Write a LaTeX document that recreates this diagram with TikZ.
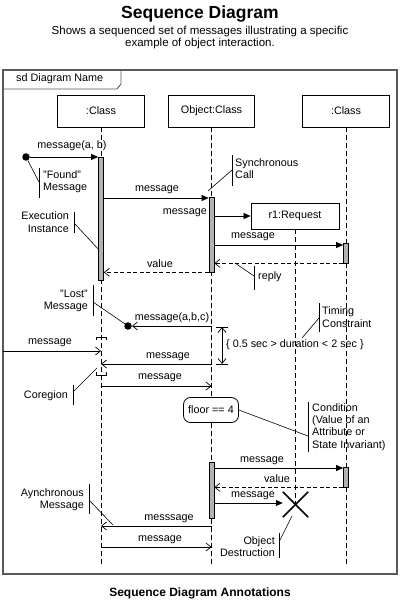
\documentclass[tikz,border=0pt]{standalone}
\usepackage{fontspec}
\setmainfont{Liberation Sans}
\usetikzlibrary{arrows.meta}
\begin{document}
\begin{tikzpicture}[x=1pt,y=-1pt,
  every node/.style={font=\fontsize{10.8}{12.3}\selectfont, inner sep=0pt},
  head/.style={draw, line width=0.8pt, minimum width=87pt, minimum height=32pt, fill=white},
  life/.style={line width=0.8pt, dash pattern=on 5pt off 3pt},
  bar/.style={draw, fill=gray!60, line width=0.7pt, minimum width=5pt, inner sep=0pt},
  sync/.style={line width=0.7pt, -{Triangle[length=7pt,width=6pt]}},
  async/.style={line width=0.7pt, -{Straight Barb[length=5pt,width=8pt]}},
  replyline/.style={async, dash pattern=on 4pt off 2.5pt},
  frameline/.style={draw=black!65, line width=1.3pt},
  notebar/.style={line width=0.9pt},
  noteline/.style={line width=0.6pt},
  dotnode/.style={circle, fill=black, minimum size=7.5pt},
]
\useasboundingbox (0,0) rectangle (400,601);

% titles
\node[font=\bfseries\fontsize{17.5}{20}\selectfont] (title) at (200,14) {Sequence Diagram};
\node[font=\fontsize{11.5}{12.5}\selectfont, align=center] (subtitle) at (200,37.5)
  {Shows a sequenced set of messages illustrating a specific\\example of object interaction.};
\node[font=\bfseries\fontsize{12}{14}\selectfont] (caption) at (200,593) {Sequence Diagram Annotations};

% frame
\draw[frameline] (3,70) rectangle (397,574);
\draw[frameline, line width=0.9pt] (3,89) -- (117,89) -- (121,84) -- (121,70);
\node[anchor=west] (sdname) at (16,79) {sd Diagram Name};

% heads
\node[head] (h1) at (101,111) {:Class};
\node[head, minimum width=86pt] (h2) at (211.5,111) {Object:Class};
\node[head] (h3) at (346,111) {:Class};

% lifelines
\draw[life] (h1.south) -- (h1.south |- 0,567);
\draw[life] (h2.south) -- (h2.south |- 0,567);
\draw[life] (h3.south) -- (h3.south |- 0,567);

% r1 request and destruction
\node[head, minimum width=88pt, minimum height=26pt] (r1) at (295,216) {r1:Request};
\node[minimum size=25pt] (xd) at (295.5,504.5) {};
\draw[life] (r1.south) -- (r1.south |- xd.center);
\draw[line width=1.5pt] (xd.north west) -- (xd.south east) (xd.north east) -- (xd.south west);

% execution bars
\node[bar, minimum height=123pt] (b1) at (101,218.5) {};
\node[bar, minimum height=75pt] (b2) at (211.5,234.5) {};
\node[bar, minimum height=20pt] (b3) at (346,253) {};
\node[bar, minimum height=56pt] (b4) at (211.5,490) {};
\node[bar, minimum height=20pt] (b5) at (346,477) {};

% found message
\node[dotnode] (found) at (26,157) {};
\draw[sync] (found) -- (b1.west |- found);
\node (lfound) at (72,146) {message(a, b)};

% b1 -> b2
\draw[sync] (b1.east |- 0,198) -- (b2.west |- 0,198);
\node (l2) at (157,190) {message};

% b2 -> r1
\draw[sync] (b2.east |- r1.west) -- (r1.west);
\node[anchor=east] (l3) at (207,213) {message};

% b2 -> b3
\draw[sync] (b2.east |- 0,245) -- (b3.west |- 0,245);
\node (l4) at (253,237) {message};

% reply b3 -> b2
\draw[replyline] (b3.south west) -- (b2.east |- b3.south west);

% value b2 -> b1
\draw[replyline] (b2.south west) -- (b1.east |- b2.south west);
\node (l5) at (160,264) {value};

% lost message
\node[dotnode] (lost) at (128,326) {};
\draw[async] (h2.south |- lost) -- (lost.east);
\node (l6) at (172,318) {message(a,b,c)};

% timing constraint
\draw[line width=0.7pt, {Straight Barb[length=5pt,width=8pt]}-{Straight Barb[length=5pt,width=8pt]}] (222,327) -- (222,364);
\draw[line width=0.7pt] (216,327) -- (228,327) (216,364) -- (228,364);
\node[anchor=west] (ltime) at (226,345) {\{ 0.5 sec > duration < 2 sec \}};

% found from left
\coordinate (leftin) at (3,351);
\draw[async] (leftin) -- (h1.south |- leftin);
\node (l7) at (50,343) {message};

% coregion brackets
\draw[line width=0.7pt] (96,340) -- (96,337) -- (106,337) -- (106,340);
\draw[line width=0.7pt] (96,372) -- (96,375) -- (106,375) -- (106,372);

% lifeline2 -> lifeline1
\draw[async] (h2.south |- 0,364) -- (h1.south |- 0,364);
\node (l8) at (168,357) {message};
% lifeline1 -> lifeline2
\draw[async] (h1.south |- 0,386) -- (h2.south |- 0,386);
\node (l9) at (160,378) {message};

% state invariant
\node[draw, rounded corners=7pt, minimum width=55pt, minimum height=25pt, fill=white, line width=0.8pt] (cond) at (211,410) {floor == 4};

% b4 -> b5
\draw[sync] (b4.east |- 0,468) -- (b5.west |- 0,468);
\node (l10) at (262,461) {message};
\draw[replyline] (b5.south west) -- (b4.east |- b5.south west);
\node (l11) at (277,479) {value};
\draw[sync] (b4.east |- 0,503) -- (xd.west |- 0,503);
\node (l12) at (253,496) {message};

% async message
\draw[async] (h2.south |- 0,526) -- (h1.south |- 0,526);
\node (l13) at (169,519) {messsage};
\draw[async] (h1.south |- 0,547) -- (h2.south |- 0,547);
\node (l14) at (160,540) {message};

% annotations
\node[anchor=west, align=left] (nfound) at (43,181.5) {"Found"\\Message};
\draw[notebar] (39,168) -- (39,198);
\draw[noteline] (found) -- (39,182);

\node[anchor=east, align=right] (nexec) at (69,222) {Execution\\Instance};
\draw[notebar] (74,212) -- (74,233);
\draw[noteline] (74,223) -- (b1.west |- 0,249);

\node[anchor=west, align=left] (nsync) at (235,168.5) {Synchronous\\Call};
\draw[notebar] (232,155) -- (232,186);
\draw[noteline] (232,170) -- (208,191);

\node[anchor=west] (nreply) at (258,277) {reply};
\draw[notebar] (254,266) -- (254,290);
\draw[noteline] (235,263) -- (254,276);

\node[anchor=east, align=right] (nlost) at (88,301) {"Lost"\\Message};
\draw[notebar] (93,285) -- (93,316);
\draw[noteline] (93,302) -- (lost);

\node[anchor=west, align=left] (ntime) at (322,317) {Timing\\Constraint};
\draw[notebar] (319,303) -- (319,332);
\draw[noteline] (319,318) -- (302,338);

\node[anchor=east] (ncore) at (68,396) {Coregion};
\draw[notebar] (73,385) -- (73,405);
\draw[noteline] (73,392) -- (97,368);

\node[anchor=west, align=left] (ncond) at (312,427) {Condition\\(Value of an\\Attribute or\\State Invariant)};
\draw[notebar] (308,402) -- (308,452);
\draw[noteline] (cond.east) -- (308,436);

\node[anchor=east, align=right] (nasync) at (84,499.5) {Aynchronous\\Message};
\draw[notebar] (89,484) -- (89,514);
\draw[noteline] (89,500) -- (113,525);

\node[anchor=east, align=right] (ndest) at (275,546.5) {Object\\Destruction};
\draw[notebar] (279,533) -- (279,558);
\draw[noteline] (280,540) -- (292,516);
\end{tikzpicture}
\end{document}
